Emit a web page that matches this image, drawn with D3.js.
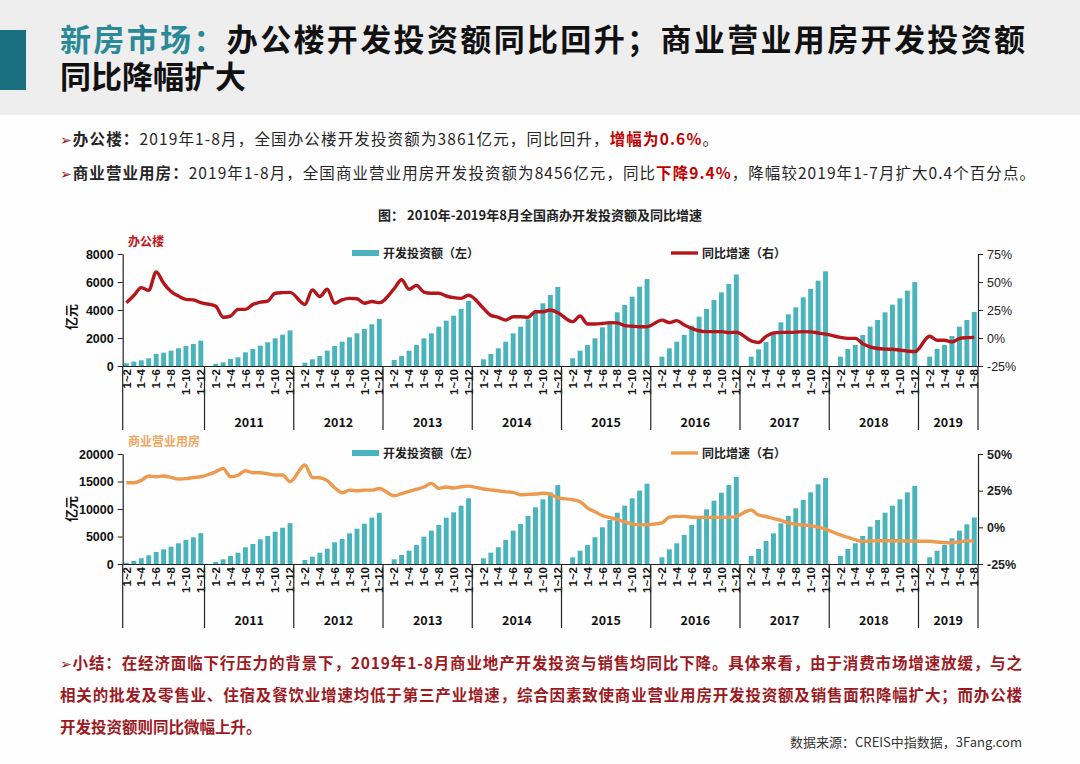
<!DOCTYPE html>
<html>
<head>
<meta charset="utf-8">
<script src="https://cdn.jsdelivr.net/npm/d3@7"></script>
<style>
body { margin: 0; background: #fff; }
svg { display: block; font-family: "Noto Sans CJK SC", "Noto Sans", sans-serif; }
</style>
</head>
<body>
<svg id="page" width="1080" height="764"></svg>
<script>
// category labels
const years = ["2010", "2011", "2012", "2013", "2014", "2015", "2016", "2017", "2018", "2019"];
const months = ["1~2", "1~3", "1~4", "1~5", "1~6", "1~7", "1~8", "1~9", "1~10", "1~11", "1~12"];
const labelMonths = ["1~2", "1~4", "1~6", "1~8", "1~10", "1~12"];

// 办公楼 累计开发投资额（亿元），每年一行
const officeInvest = [
	[190, 310, 405, 548, 857, 952, 1095, 1262, 1428, 1571, 1807],
	[143, 262, 500, 619, 976, 1214, 1452, 1690, 1976, 2238, 2544],
	[236, 479, 714, 1095, 1428, 1738, 2048, 2333, 2643, 2976, 3367],
	[428, 714, 1095, 1500, 1976, 2333, 2810, 3238, 3595, 4071, 4652],
	[476, 857, 1262, 1738, 2333, 2810, 3333, 3881, 4476, 5071, 5641],
	[548, 1095, 1500, 1976, 2762, 3167, 3833, 4357, 4952, 5667, 6210],
	[667, 1262, 1738, 2214, 2881, 3524, 4071, 4714, 5262, 5857, 6533],
	[667, 1190, 1714, 2262, 3119, 3690, 4190, 4905, 5500, 6095, 6761],
	[667, 1214, 1500, 2214, 2810, 3286, 3833, 4381, 4833, 5381, 5996],
	[667, 1214, 1500, 2143, 2810, 3286, 3861]
];
// 办公楼 同比增速（%）
const officeGrowth = [
	[31.5, 38, 45, 42.5, 59, 49, 41.5, 37.5, 34.5, 34, 31.5],
	[28.5, 18.5, 19.6, 25.6, 25.6, 30, 32, 33, 40, 40.5, 40.7],
	[30, 43, 37, 43.5, 31, 34, 35.4, 35, 31, 32.6, 31.6],
	[44, 52, 43.5, 47, 41, 40, 40, 37.5, 36, 35.4, 38.2],
	[26.5, 20.2, 18.5, 16, 19, 19, 18.5, 23.5, 23.5, 25, 22.6],
	[14.6, 19.6, 12.5, 12.5, 13, 13.7, 13.5, 11, 10.5, 10.1, 10.1],
	[16, 13.7, 15.5, 11.6, 8.6, 6.5, 5.7, 5.7, 5.7, 4.8, 5.2],
	[-2.5, -4, 1.5, 4.5, 5, 5, 5.2, 5.7, 5.5, 4.5, 3.5],
	[0.5, -0.3, -0.3, -5, -8, -9.4, -9.9, -10.1, -10.8, -11.7, -12.2],
	[1.5, -2, -2, -3.5, -0.5, 0.3, 0.6]
];

// 商业营业用房 累计开发投资额（亿元）
const commInvest = [
	[236, 545, 1036, 1582, 2182, 2673, 3145, 3764, 4364, 4855, 5599],
	[364, 855, 1455, 2055, 3036, 3636, 4491, 5091, 5873, 6600, 7424],
	[727, 1327, 2055, 2782, 3945, 4545, 5582, 6418, 7327, 8418, 9312],
	[855, 1636, 2418, 3455, 4970, 6060, 7091, 8424, 9394, 10606, 11945],
	[1036, 2055, 3036, 4364, 6060, 7273, 8727, 10303, 11758, 13030, 14346],
	[1218, 2418, 3455, 4855, 6673, 8000, 9327, 10606, 11939, 13333, 14607],
	[1218, 2673, 3764, 5273, 7091, 8303, 9945, 11515, 12970, 14364, 15838],
	[1455, 2727, 4182, 5576, 7394, 8727, 10121, 11636, 13030, 14485, 15640],
	[1455, 2727, 3764, 5091, 6782, 8000, 9327, 10606, 11758, 13030, 14177],
	[1218, 2418, 3455, 4667, 6060, 7212, 8456]
];
// 商业营业用房 同比增速（%）
const commGrowth = [
	[30.4, 30.4, 32, 35, 34.5, 35, 34.1, 33, 33.2, 34, 34.5],
	[37.9, 40.2, 34.5, 35.5, 38.6, 37.2, 37.2, 36.5, 35.7, 35.7, 31.1],
	[42.5, 34, 33.8, 31.8, 27, 23.6, 25.4, 24.9, 25.4, 25.4, 26.5],
	[21.5, 23, 24.5, 26, 27.5, 30, 26.5, 27.5, 26.8, 27.7, 28.1],
	[26.1, 25.5, 24.9, 24.2, 23.8, 22.2, 22.5, 22.7, 23.2, 22.5, 20.1],
	[18.8, 17.5, 13.2, 10.6, 8, 6.6, 5.3, 3.8, 2.3, 1.7, 1.8],
	[3, 7, 7.5, 7.5, 6.9, 6.8, 6.8, 6.8, 6.8, 6.8, 7.5],
	[11.8, 8.4, 7.4, 6, 4.8, 3, 2, 1.6, 1.1, 0.2, -1.2],
	[-5.2, -6.8, -8.4, -9.6, -9.3, -9.1, -9.1, -9.1, -9.2, -9.3, -9.4],
	[-9.5, -10, -10.5, -10.5, -9.8, -9.2, -9.4]
];

const officeTicks = [0, 2000, 4000, 6000, 8000];
const officePctTicks = [-25, 0, 25, 50, 75];
const commTicks = [0, 5000, 10000, 15000, 20000];
const commPctTicks = [-25, 0, 25, 50];

const svg = d3.select("#page");
const barColor = "#4bb3bb";

// builds the category list: a blank "1" month slot sits before every year except the first
function buildCats(invest, growth) {
	let cats = [];
	years.forEach(function(yr, yi) {
		if (yi > 0) cats.push({ key: yr + "-1", year: yr, month: "1", inv: null, g: null });
		invest[yi].forEach(function(v, mi) {
			cats.push({ key: yr + "-" + months[mi], year: yr, month: months[mi], inv: v, g: growth[yi][mi] });
		});
	});
	return cats;
}

// one bar + line chart with two y axes and a two level category axis
function comboChart(o) {
	let cats = buildCats(o.invest, o.growth);
	let x0 = 122.7, x1 = 978;

	let x = d3.scaleBand()
		.domain(cats.map(d => d.key))
		.range([x0, x1])
		.paddingInner(0.34)
		.paddingOuter(0.17);

	let yL = d3.scaleLinear().domain(o.leftDomain).range([o.bottom, o.top]);
	let yR = d3.scaleLinear().domain(o.rightDomain).range([o.bottom, o.top]);

	let g = svg.append("g");

	// bars
	g.selectAll("rect.bar")
		.data(cats.filter(d => d.inv != null))
		.enter()
		.append("rect")
		.attr("class", "bar")
		.attr("fill", barColor)
		.attr("x", d => x(d.key))
		.attr("y", d => yL(d.inv))
		.attr("width", x.bandwidth())
		.attr("height", d => yL(0) - yL(d.inv));

	// growth line, drawn through the blank slots
	let line = d3.line()
		.x(d => x(d.key) + x.bandwidth() / 2)
		.y(d => yR(d.g))
		.curve(d3.curveMonotoneX);

	g.append("path")
		.datum(cats.filter(d => d.g != null))
		.attr("fill", "none")
		.attr("stroke", o.lineColor)
		.attr("stroke-width", 3.4)
		.attr("stroke-linejoin", "round")
		.attr("d", line);

	// left axis
	let la = g.append("g")
		.attr("transform", "translate(" + x0 + ",0)")
		.call(d3.axisLeft(yL).tickValues(o.leftTicks).tickSize(5).tickSizeOuter(0).tickFormat(d3.format("d")));
	la.selectAll("text").attr("x", -9)
		.style("font-size", "12.5px").style("font-weight", "bold").attr("fill", "#111");

	// right axis
	let ra = g.append("g")
		.attr("transform", "translate(" + x1 + ",0)")
		.call(d3.axisRight(yR).tickValues(o.rightTicks).tickSize(5).tickSizeOuter(0).tickFormat(d => d + "%"));
	ra.selectAll("text").attr("x", 9)
		.style("font-size", "12.5px").style("font-weight", o.rightBold ? "bold" : "normal").attr("fill", "#222");

	// category axis, month labels on every other slot
	let labelKeys = cats.filter(d => labelMonths.indexOf(d.month) >= 0).map(d => d.key);
	let ba = g.append("g")
		.attr("transform", "translate(0," + o.bottom + ")")
		.call(d3.axisBottom(x).tickValues(labelKeys).tickSize(0).tickSizeOuter(0)
			.tickFormat(k => k.split("-")[1]));
	ba.selectAll("text")
		.attr("transform", "rotate(-90)")
		.attr("text-anchor", "end")
		.attr("x", -3)
		.attr("y", 0)
		.attr("dy", "0.36em")
		.style("font-size", "11.5px")
		.style("font-weight", "bold")
		.attr("fill", "#111");

	g.selectAll(".domain").attr("stroke", "#222").attr("stroke-width", 1.2);
	g.selectAll(".tick line").attr("stroke", "#222");

	// year separators and year labels
	let half = x.step() * x.paddingInner() / 2;
	let bounds = years.map(function(yr, yi) {
		let first = cats.find(d => d.year === yr);
		return yi === 0 ? x0 : x(first.key) - half;
	});
	bounds.push(x1);

	g.selectAll("line.sep")
		.data(bounds)
		.enter()
		.append("line")
		.attr("class", "sep")
		.attr("x1", d => d).attr("x2", d => d)
		.attr("y1", o.bottom).attr("y2", o.bottom + 64)
		.attr("stroke", "#222")
		.attr("stroke-width", 1.2);

	g.selectAll("text.year")
		.data(years.slice(1))
		.enter()
		.append("text")
		.attr("class", "year")
		.attr("x", (d, i) => (bounds[i + 1] + bounds[i + 2]) / 2)
		.attr("y", o.bottom + 61)
		.attr("text-anchor", "middle")
		.style("font-size", "12.5px")
		.style("font-weight", "bold")
		.attr("fill", "#111")
		.text(d => d);

	// 亿元
	g.append("text")
		.attr("transform", "translate(76," + o.unitY + ") rotate(-90)")
		.attr("text-anchor", "middle")
		.style("font-size", "13px")
		.style("font-weight", "bold")
		.attr("fill", "#111")
		.text("亿元");

	// series name
	g.append("text")
		.attr("x", 128)
		.attr("y", o.top - 8)
		.style("font-size", "12px")
		.style("font-weight", "bold")
		.attr("fill", o.labelColor)
		.text(o.label);

	// legend
	let ly = o.top - 1;
	g.append("rect").attr("x", 352).attr("y", ly - 3).attr("width", 27).attr("height", 6).attr("fill", barColor);
	g.append("text").attr("x", 383).attr("y", ly + 4.5)
		.style("font-size", "12px").style("font-weight", "bold").attr("fill", "#222")
		.text(o.legendBar);
	g.append("line").attr("x1", 671).attr("x2", 698).attr("y1", ly).attr("y2", ly)
		.attr("stroke", o.lineColor).attr("stroke-width", 3.4);
	g.append("text").attr("x", 702).attr("y", ly + 4.5)
		.style("font-size", "12px").style("font-weight", "bold").attr("fill", "#222")
		.text(o.legendLine);
}

// ---- page frame ----
svg.append("rect").attr("width", 1080).attr("height", 764).attr("fill", "#fefefe");
svg.append("rect").attr("width", 1080).attr("height", 115).attr("fill", "#eeeeef");
svg.append("rect").attr("x", 0).attr("y", 30).attr("width", 26).attr("height", 60).attr("fill", "#1a6f7e");

let t1 = svg.append("text").attr("x", 60).attr("y", 51)
	.style("font-size", "31px").style("font-weight", "bold")
	.attr("textLength", 965).attr("lengthAdjust", "spacing");
t1.append("tspan").attr("fill", "#2a8996").text("新房市场：");
t1.append("tspan").attr("fill", "#111").text("办公楼开发投资额同比回升；商业营业用房开发投资额");
svg.append("text").attr("x", 60).attr("y", 88)
	.style("font-size", "31px").style("font-weight", "bold").attr("fill", "#111")
	.text("同比降幅扩大");

// bullets
let b1 = svg.append("text").attr("x", 60).attr("y", 145).style("font-size", "15.5px").attr("fill", "#262626")
	.attr("textLength", 658).attr("lengthAdjust", "spacing");
b1.append("tspan").attr("fill", "#8e1b1f").style("font-family", "DejaVu Sans").style("font-size", "14px").text("➢");
b1.append("tspan").style("font-weight", "bold").text("办公楼：");
b1.append("tspan").text("2019年1-8月，全国办公楼开发投资额为3861亿元，同比回升，");
b1.append("tspan").style("font-weight", "bold").attr("fill", "#c00000").text("增幅为0.6%");
b1.append("tspan").text("。");

let b2 = svg.append("text").attr("x", 60).attr("y", 179).style("font-size", "15.5px").attr("fill", "#262626")
	.attr("textLength", 975).attr("lengthAdjust", "spacing");
b2.append("tspan").attr("fill", "#8e1b1f").style("font-family", "DejaVu Sans").style("font-size", "14px").text("➢");
b2.append("tspan").style("font-weight", "bold").text("商业营业用房：");
b2.append("tspan").text("2019年1-8月，全国商业营业用房开发投资额为8456亿元，同比");
b2.append("tspan").style("font-weight", "bold").attr("fill", "#c00000").text("下降9.4%");
b2.append("tspan").text("，降幅较2019年1-7月扩大0.4个百分点。");

// chart title
svg.append("text").attr("x", 540).attr("y", 220).attr("text-anchor", "middle")
	.style("font-size", "13px").style("font-weight", "bold").attr("fill", "#222")
	.text("图： 2010年-2019年8月全国商办开发投资额及同比增速");

comboChart({
	invest: officeInvest, growth: officeGrowth,
	top: 254, bottom: 366,
	leftDomain: [0, 8000], rightDomain: [-25, 75],
	leftTicks: officeTicks, rightTicks: officePctTicks,
	lineColor: "#b5161c", label: "办公楼", labelColor: "#c0161c",
	legendBar: "开发投资额（左）", legendLine: "同比增速（右）",
	unitY: 317, rightBold: false
});

comboChart({
	invest: commInvest, growth: commGrowth,
	top: 454, bottom: 564,
	leftDomain: [0, 20000], rightDomain: [-25, 50],
	leftTicks: commTicks, rightTicks: commPctTicks,
	lineColor: "#ee9a4e", label: "商业营业用房", labelColor: "#f0a660",
	legendBar: "开发投资额（左）", legendLine: "同比增速（右）",
	unitY: 509, rightBold: true
});

// summary
const summary = [
	"在经济面临下行压力的背景下，2019年1-8月商业地产开发投资与销售均同比下降。具体来看，由于消费市场增速放缓，与之",
	"相关的批发及零售业、住宿及餐饮业增速均低于第三产业增速，综合因素致使商业营业用房开发投资额及销售面积降幅扩大；而办公楼",
	"开发投资额则同比微幅上升。"
];
let s1 = svg.append("text").attr("x", 60).attr("y", 669).style("font-size", "15.5px").style("font-weight", "bold")
	.attr("fill", "#9c1a1f").attr("textLength", 962).attr("lengthAdjust", "spacing");
s1.append("tspan").style("font-family", "DejaVu Sans").style("font-size", "14px").style("font-weight", "normal").text("➢");
s1.append("tspan").text("小结：" + summary[0]);
svg.append("text").attr("x", 60).attr("y", 701).style("font-size", "15.5px").style("font-weight", "bold")
	.attr("fill", "#9c1a1f").attr("textLength", 962).attr("lengthAdjust", "spacing").text(summary[1]);
svg.append("text").attr("x", 60).attr("y", 733).style("font-size", "15.5px").style("font-weight", "bold")
	.attr("fill", "#9c1a1f").text(summary[2]);

svg.append("text").attr("x", 1022).attr("y", 747).attr("text-anchor", "end")
	.style("font-size", "13px").attr("fill", "#333")
	.text("数据来源：CREIS中指数据，3Fang.com");
</script>
</body>
</html>
